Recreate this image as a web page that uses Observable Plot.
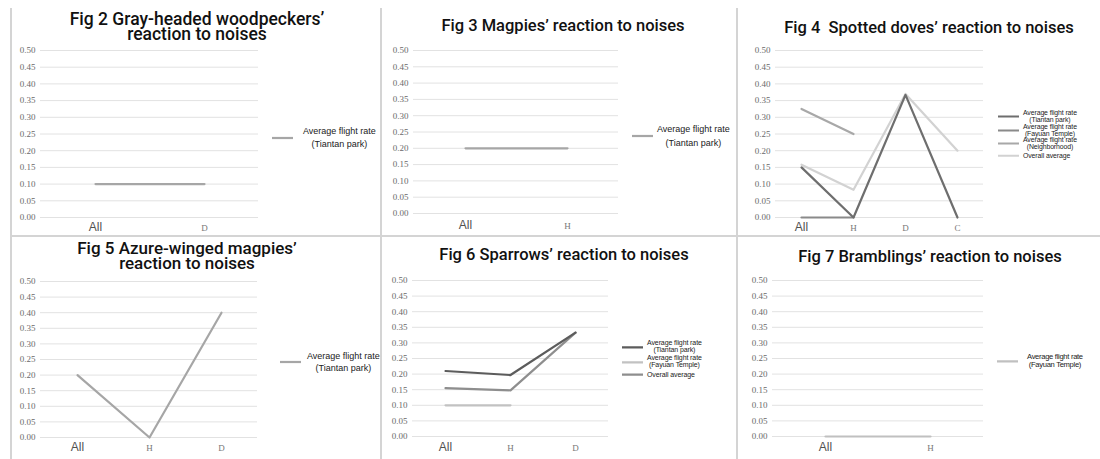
<!DOCTYPE html>
<html><head><meta charset="utf-8">
<script src="https://cdn.jsdelivr.net/npm/d3@7"></script>
<script src="https://cdn.jsdelivr.net/npm/@observablehq/plot@0.6"></script>
<style>
body{margin:0;background:#fff;width:1100px;height:459px;overflow:hidden;position:relative}
.psvg{position:absolute}
.psvg svg{overflow:visible}
.title{position:absolute;text-align:center;font-family:Roboto,"Open Sans",sans-serif;font-weight:500;color:#111;font-size:16.5px;line-height:15px;white-space:nowrap}
.lrow{position:absolute;display:flex;align-items:center;transform:translateY(-50%)}
.ltext{font-family:"Liberation Sans",Arial,sans-serif;color:#222;text-align:center;white-space:nowrap}
.vline{position:absolute;width:1.5px;background:#d4d4d4}
.hline{position:absolute;height:1.5px;background:#d4d4d4}
</style></head><body>
<script>
// ---------- data ----------
const yTicks = [0.00, 0.05, 0.10, 0.15, 0.20, 0.25, 0.30, 0.35, 0.40, 0.45, 0.50];

const fig2Categories = ["All", "D"];
const fig2Tiantan = [0.10, 0.10];

const fig3Categories = ["All", "H"];
const fig3Tiantan = [0.20, 0.20];

const fig4Categories = ["All", "H", "D", "C"];
const fig4Tiantan = [0.15, 0.00, 0.367, 0.00];
const fig4Fayuan = [0.00, 0.00, null, null];
const fig4Neighborhood = [0.325, 0.25, null, null];
const fig4Overall = [0.158, 0.083, 0.37, 0.20];

const fig5Categories = ["All", "H", "D"];
const fig5Tiantan = [0.20, 0.00, 0.40];

const fig6Categories = ["All", "H", "D"];
const fig6Tiantan = [0.21, 0.197, 0.333];
const fig6Fayuan = [0.10, 0.10, null];
const fig6Overall = [0.155, 0.148, 0.333];

const fig7Categories = ["All", "H"];
const fig7Fayuan = [0.00, 0.00];

const labelTiantan = ["Average flight rate", "(Tiantan park)"];
const labelFayuan = ["Average flight rate", "(Fayuan Temple)"];
const labelNeighborhood = ["Average flight rate", "(Neighborhood)"];
const labelOverall = ["Overall average"];

const titles = [
  ["Fig 2 Gray-headed woodpeckers’", "reaction to noises"],
  ["Fig 3 Magpies’ reaction to noises"],
  ["Fig 4\u00a0 Spotted doves’ reaction to noises"],
  ["Fig 5 Azure-winged magpies’", "reaction to noises"],
  ["Fig 6 Sparrows’ reaction to noises"],
  ["Fig 7 Bramblings’ reaction to noises"]
];

// ---------- layout ----------
const panels = [
  {title: titles[0], tfs: 17.5, tcx: 197, cats: fig2Categories, left: 0, top: 0, w: 370, h: 232, ml: 40, mr: 112, mt: 50, mb: 15, titleY: 19, xpad: 5,
   series: [{v: fig2Tiantan, c: "#a6a6a6", lab: labelTiantan}],
   legend: {x: 272, ys: [138], fs: 9, lh: 13, ls: 0, gap: 10}},
  {title: titles[1], tfs: 16.5, tcx: 193, cats: fig3Categories, left: 370, top: 0, w: 370, h: 232, ml: 43, mr: 122, mt: 50, mb: 19, titleY: 25, xpad: 7,
   series: [{v: fig3Tiantan, c: "#a6a6a6", lab: labelTiantan}],
   legend: {x: 632, ys: [136], fs: 9, lh: 14, ls: 0, gap: 4}},
  {title: titles[2], tfs: 16.5, tcx: 194, cats: fig4Categories, left: 735, top: 0, w: 365, h: 232, ml: 40, mr: 117, mt: 50, mb: 15, titleY: 27, xpad: 5,
   series: [
     {v: fig4Fayuan, c: "#8a8a8a", lab: labelFayuan},
     {v: fig4Neighborhood, c: "#a8a8a8", lab: labelNeighborhood},
     {v: fig4Overall, c: "#d2d2d2", lab: labelOverall},
     {v: fig4Tiantan, c: "#6e6e6e", lab: labelTiantan}],
   legendOrder: [3, 0, 1, 2],
   legend: {x: 998, ys: [116, 130, 143, 156], fs: 6.9, lh: 6.5, ls: -0.1, gap: 4}},
  {title: titles[3], tfs: 17, tcx: 187, cats: fig5Categories, left: 0, top: 236, w: 370, h: 223, ml: 40, mr: 113, mt: 45, mb: 22, titleY: 248, xpad: 5,
   series: [{v: fig5Tiantan, c: "#a6a6a6", lab: labelTiantan}],
   legend: {x: 280, ys: [362], fs: 9, lh: 12, ls: 0, gap: 6}},
  {title: titles[4], tfs: 16.5, tcx: 194, cats: fig6Categories, left: 370, top: 236, w: 370, h: 223, ml: 42, mr: 132, mt: 44, mb: 23, titleY: 254, xpad: 6,
   series: [
     {v: fig6Fayuan, c: "#c2c2c2", lab: labelFayuan},
     {v: fig6Overall, c: "#8e8e8e", lab: labelOverall},
     {v: fig6Tiantan, c: "#5c5c5c", lab: labelTiantan}],
   legendOrder: [2, 0, 1],
   legend: {x: 622, ys: [347, 362, 375], fs: 7, lh: 6.6, ls: -0.1, gap: 4}},
  {title: titles[5], tfs: 16.5, tcx: 195, cats: fig7Categories, left: 735, top: 236, w: 365, h: 223, ml: 37, mr: 117, mt: 44, mb: 23, titleY: 256, xpad: 6,
   series: [{v: fig7Fayuan, c: "#c0c0c0", lab: labelFayuan}],
   legend: {x: 997, ys: [361], fs: 7.6, lh: 7.6, ls: -0.3, gap: 9}}
];

// ---------- borders ----------
function addDiv(cls, style) {
  const d = document.createElement("div");
  d.className = cls;
  Object.assign(d.style, style);
  document.body.appendChild(d);
}
addDiv("vline", {left: "10px", top: "8px", height: "451px"});
addDiv("vline", {left: "380px", top: "8px", height: "451px"});
addDiv("vline", {left: "736px", top: "8px", height: "451px"});
addDiv("hline", {left: "10px", top: "235px", width: "1090px"});

// ---------- panels ----------
panels.forEach(p => {
  const rows = [];
  p.series.forEach((s, si) => p.cats.forEach((cat, i) => rows.push({cat, value: s.v[i], s: si})));
  const others = p.cats.filter(c => c !== "All");
  const marks = [
    Plot.gridY(yTicks, {stroke: "#e2e2e2", strokeOpacity: 1, strokeWidth: 1}),
    Plot.axisY(yTicks, {tickSize: 0, tickPadding: 5, label: null, tickFormat: d => d.toFixed(2),
      fontFamily: "Liberation Serif, DejaVu Serif, serif", fontSize: 9, fill: "#6a6a6a"}),
    Plot.axisX(["All"], {tickSize: 0, tickPadding: p.xpad, label: null,
      fontFamily: "Liberation Sans, Arial, sans-serif", fontSize: 12, fill: "#505050", fontWeight: 500}),
    Plot.axisX(others, {tickSize: 0, tickPadding: p.xpad + 2, label: null,
      fontFamily: "Liberation Serif, DejaVu Serif, serif", fontSize: 9, fill: "#777"})
  ];
  p.series.forEach((s, si) => {
    marks.push(Plot.line(rows.filter(r => r.s === si), {x: "cat", y: "value", stroke: s.c, strokeWidth: 2.2}));
  });
  const chart = Plot.plot({
    width: p.w, height: p.h,
    marginLeft: p.ml, marginRight: p.mr, marginTop: p.mt, marginBottom: p.mb,
    x: {type: "point", domain: p.cats, padding: 0.5, axis: null, label: null},
    y: {domain: [0, 0.5], axis: null, label: null},
    style: {background: "transparent", overflow: "visible"},
    marks
  });
  const wrap = document.createElement("div");
  wrap.className = "psvg";
  wrap.style.left = p.left + "px";
  wrap.style.top = p.top + "px";
  wrap.appendChild(chart);
  document.body.appendChild(wrap);

  // title (one block, lines joined)
  const d = document.createElement("div");
  d.className = "title";
  d.innerHTML = p.title.join("<br>");
  d.style.fontSize = p.tfs + "px";
  d.style.left = (p.left + p.tcx - 200) + "px";
  d.style.width = "400px";
  d.style.top = (p.titleY - 7) + "px";
  document.body.appendChild(d);

  // legend
  const order = p.legendOrder || p.series.map((_, i) => i);
  order.forEach((si, k) => {
    const s = p.series[si];
    const row = document.createElement("div");
    row.className = "lrow";
    row.style.left = p.legend.x + "px";
    row.style.top = p.legend.ys[k] + "px";
    const sw = document.createElementNS("http://www.w3.org/2000/svg", "svg");
    sw.setAttribute("width", 21); sw.setAttribute("height", 4);
    sw.innerHTML = `<line x1="0" x2="21" y1="2" y2="2" stroke="${s.c}" stroke-width="2.2"/>`;
    sw.style.marginRight = p.legend.gap + "px";
    row.appendChild(sw);
    const tx = document.createElement("div");
    tx.className = "ltext";
    tx.style.fontSize = p.legend.fs + "px";
    tx.style.lineHeight = p.legend.lh + "px";
    tx.style.letterSpacing = p.legend.ls + "px";
    tx.innerHTML = s.lab.join("<br>");
    row.appendChild(tx);
    document.body.appendChild(row);
  });
});
</script>
</body></html>
